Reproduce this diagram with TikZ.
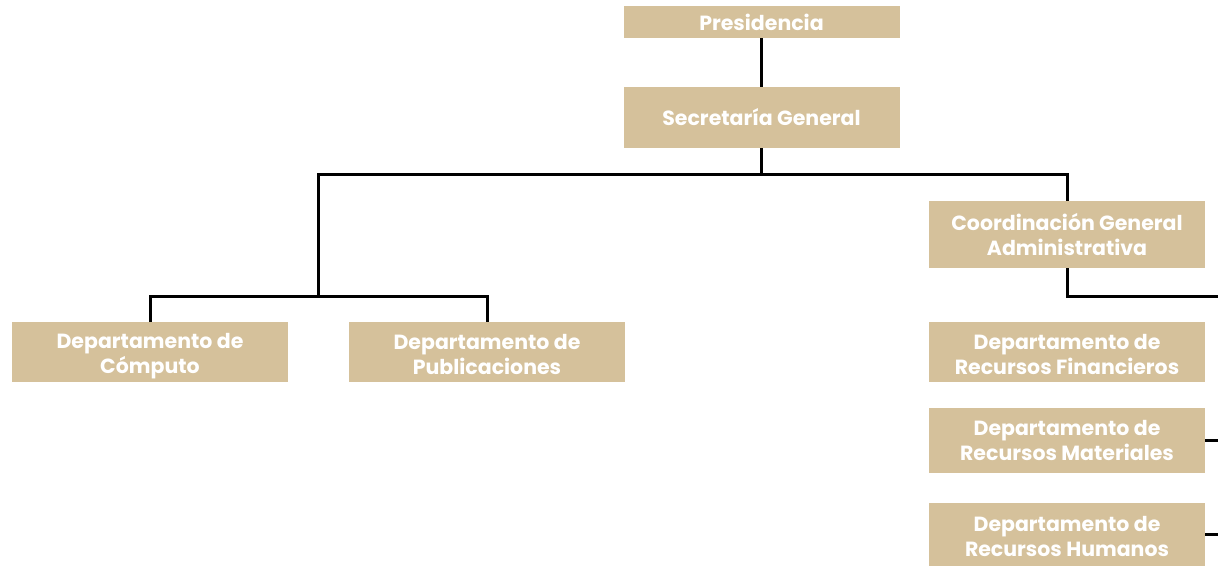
\documentclass[tikz,border=0pt]{standalone}
\usepackage{fontspec}
\setmainfont{Poppins}
\definecolor{tan}{HTML}{D5C19B}
\newcommand{\topstrut}[1]{\rule{0pt}{#1}}
\tikzset{
  box/.style={fill=tan, text=white, font=\bfseries\fontsize{20.5}{25}\selectfont, align=center, inner sep=0pt, minimum width=276pt},
  link/.style={line width=3pt, draw=black}
}
\begin{document}
\begin{tikzpicture}[x=1pt,y=-1pt]
\useasboundingbox (0,0) rectangle (1218,566);
\node[box, minimum height=32pt] (pres) at (761.5,22) {Presidencia};
\node[box, minimum height=61pt] (sec) at (761.5,117.5) {Secretaría General};
\node[box, minimum height=67pt] (coord) at (1067,234.5) {Coordinación General\\Administrativa};
\node[box, minimum height=60pt] (comp) at (150,352) {\topstrut{23pt}Departamento de\\Cómputo};
\node[box, minimum height=60pt] (pub) at (487,352) {\topstrut{20.5pt}Departamento de\\Publicaciones};
\node[box, minimum height=60pt] (fin) at (1067,352) {\topstrut{20pt}Departamento de\\Recursos Financieros};
\node[box, minimum height=65pt] (mat) at (1067,440.5) {Departamento de\\Recursos Materiales};
\node[box, minimum height=63pt] (hum) at (1067,534.5) {\topstrut{20pt}Departamento de\\Recursos Humanos};
\coordinate (j1) at (318,174);
\coordinate (j3) at (318,296);
\coordinate (e1) at (1218,296);
\coordinate (edge) at (1218,0);
\draw[link] (pres) -- (sec);
\draw[link] (sec.south) -- (sec.south |- j1);
\draw[link] (coord.north) |- (j1) -- (j3);
\draw[link] (comp.north) |- (j3);
\draw[link] (pub.north) |- (j3);
\draw[link] (coord.south) |- (e1);
\draw[link] (mat.east) -- (mat.east -| edge);
\draw[link] (hum.east) -- (hum.east -| edge);
\end{tikzpicture}
\end{document}
